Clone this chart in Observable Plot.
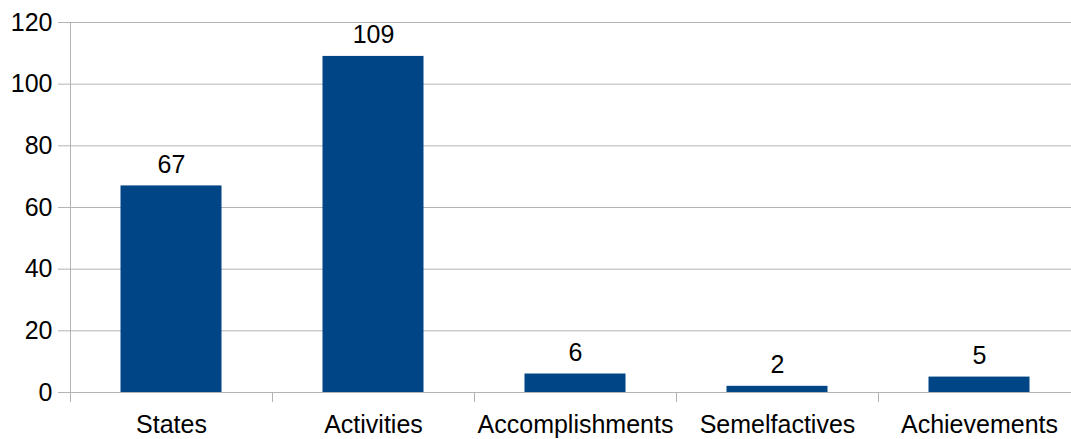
<!DOCTYPE html>
<html>
<head>
<meta charset="utf-8">
<script src="https://cdn.jsdelivr.net/npm/d3@7"></script>
<script src="https://cdn.jsdelivr.net/npm/@observablehq/plot@0.6"></script>
<style>
  html, body { margin: 0; padding: 0; background: #fff; overflow: hidden; }
</style>
</head>
<body>
<div id="chart"></div>
<script>
const categories = ["States", "Activities", "Accomplishments", "Semelfactives", "Achievements"];
const counts = [67, 109, 6, 2, 5];
const yTicks = [0, 20, 40, 60, 80, 100, 120];

const data = categories.map((c, i) => ({cat: c, i, value: counts[i]}));
const boundaries = d3.range(categories.length + 1);
const centers = categories.map((c, i) => i + 0.5);

const grid = "#b3b3b3";
const fs = 25;

const chart = Plot.plot({
  width: 1071,
  height: 439,
  marginLeft: 70,
  marginRight: -9,
  marginTop: 22,
  marginBottom: 47,
  style: {fontFamily: "'Liberation Sans', Arial, sans-serif", fontSize: fs + "px", background: "#fff"},
  x: {type: "linear", domain: [0, categories.length], axis: null},
  y: {domain: [0, 120], axis: null},
  marks: [
    Plot.gridY(yTicks, {stroke: grid, strokeOpacity: 1, strokeWidth: 1}),
    Plot.axisY(yTicks, {tickSize: 12, tickPadding: 6, stroke: grid, strokeOpacity: 1, fill: "black", fontSize: fs, label: null, tickFormat: d => d}),
    Plot.ruleX([0], {y1: 0, y2: 120, stroke: grid}),
    Plot.axisX(boundaries, {tickSize: 10, stroke: grid, strokeOpacity: 1, tickFormat: () => "", label: null}),
    Plot.axisX(centers, {tickSize: 0, tickPadding: 23, fill: "black", fontSize: fs, label: null, tickFormat: d => categories[Math.round(d - 0.5)]}),
    Plot.rectY(data, {x1: d => d.i + 0.25, x2: d => d.i + 0.75, y: "value", fill: "#004586"}),
    Plot.text(data, {x: d => d.i + 0.5, y: "value", text: d => String(d.value), lineAnchor: "bottom", dy: -13, fill: "black", fontSize: fs})
  ]
});
document.getElementById("chart").appendChild(chart);
</script>
</body>
</html>
